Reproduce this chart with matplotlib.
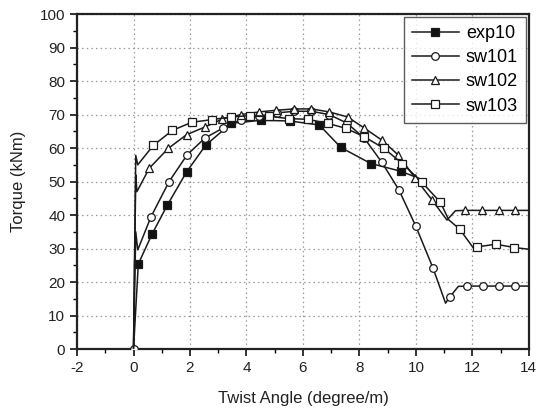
import matplotlib
matplotlib.use("Agg")
import matplotlib.pyplot as plt
from matplotlib.ticker import MultipleLocator

plt.rcParams['font.family'] = ['Liberation Sans', 'DejaVu Sans']

# ---- data ----
exp10_x = [0, 0.17, 0.65, 1.2, 1.88, 2.56, 3.46, 4.52, 5.53, 6.58, 7.34, 8.4, 9.46, 10.1]
exp10_y = [0, 25.4, 34.2, 43, 52.9, 60.9, 67.4, 68.3, 68.1, 66.9, 60.2, 55.4, 53.1, 51]
exp10_marks = list(range(1, 13))

sw101_x = [0, 0.08, 0.15, 0.62, 1.26, 1.9, 2.53, 3.17, 3.82, 4.45, 5.07, 5.7, 6.3, 6.93,
           7.55, 8.17, 8.79, 9.4, 10.0, 10.6, 11.05, 11.19, 11.5, 11.82, 12.38, 12.93, 13.52, 14]
sw101_y = [0, 35, 29.6, 39.5, 50, 58, 63, 66, 68.5, 69.5, 70.5, 71, 71, 70,
           67.5, 63, 55.8, 47.5, 36.6, 24.3, 13.7, 15.4, 18.7, 18.8, 18.8, 18.8, 18.8, 18.8]
sw101_marks = [0] + list(range(3, 20)) + [21, 23, 24, 25, 26]

sw102_x = [0, 0.08, 0.12, 0.56, 1.23, 1.88, 2.53, 3.15, 3.8, 4.44, 5.06, 5.7, 6.3, 6.93,
           7.58, 8.17, 8.79, 9.38, 9.96, 10.58, 11.1, 11.4, 11.75, 12.34, 12.93, 13.52, 14]
sw102_y = [0, 52, 47, 54, 59.9, 64, 66.3, 68.7, 70, 70.8, 71.3, 71.7, 71.7, 70.8,
           69.3, 66, 62.4, 57.9, 51.2, 44.4, 38.5, 41.3, 41.4, 41.4, 41.4, 41.4, 41.4]
sw102_marks = list(range(3, 20)) + [22, 23, 24, 25]

sw103_x = [0, 0.08, 0.15, 0.7, 1.38, 2.06, 2.77, 3.47, 4.14, 4.8, 5.5, 6.17, 6.87, 7.52,
           8.17, 8.87, 9.52, 10.2, 10.87, 11.16, 11.55, 12.05, 12.17, 12.83, 13.49, 14]
sw103_y = [0, 57.8, 55, 60.8, 65.3, 67.7, 68.5, 69.3, 69.7, 69.5, 68.8, 68.6, 67.4, 65.9,
           63.4, 59.9, 55.4, 49.9, 43.8, 38.6, 35.8, 30, 30.5, 31.3, 30.3, 29.8]
sw103_marks = list(range(3, 19)) + [20, 22, 23, 24]

x_ticks = [-2, 0, 2, 4, 6, 8, 10, 12, 14]
y_ticks = [0, 10, 20, 30, 40, 50, 60, 70, 80, 90, 100]

fig = plt.figure(figsize=(5.36, 4.16), dpi=100)
ax = fig.add_axes([0.1437, 0.161, 0.843, 0.805])

common = dict(color='#1a1a1a', lw=1.1, markersize=5.5, markeredgewidth=0.9,
              markeredgecolor='#1a1a1a')
ax.plot(exp10_x, exp10_y, marker='s', markerfacecolor='#111111',
        markevery=exp10_marks, label='exp10', zorder=3, **common)
ax.plot(sw101_x, sw101_y, marker='o', markerfacecolor='white',
        markevery=sw101_marks, label='sw101', zorder=3, **common)
ax.plot(sw102_x, sw102_y, marker='^', markerfacecolor='white',
        markevery=sw102_marks, label='sw102', zorder=3, **common)
ax.plot(sw103_x, sw103_y, marker='s', markerfacecolor='white',
        markevery=sw103_marks, label='sw103', zorder=3, **common)

ax.set_xlim(-2, 14)
ax.set_ylim(0, 100)
ax.set_xticks(x_ticks)
ax.set_yticks(y_ticks)
ax.set_xticklabels([str(v) for v in x_ticks])
ax.xaxis.set_minor_locator(MultipleLocator(1))
ax.yaxis.set_minor_locator(MultipleLocator(5))
ax.tick_params(which='major', direction='out', length=5, width=1.3, labelsize=11,
               top=False, right=False, colors='#222222')
ax.tick_params(which='minor', direction='out', length=3, width=1.0, top=False, right=False)
for s in ax.spines.values():
    s.set_linewidth(1.6)
    s.set_color('#222222')

ax.grid(True, which='major', linestyle=(0, (1.2, 2.5)), color='#999999', linewidth=0.9)
ax.set_axisbelow(True)

ax.set_xlabel('Twist Angle (degree/m)', fontsize=12, color='#222222', labelpad=12)
ax.set_ylabel('Torque (kNm)', fontsize=12, color='#222222', labelpad=10)

leg = ax.legend(loc='upper right', fontsize=13, handlelength=2.6, numpoints=1,
                frameon=True, fancybox=False, borderaxespad=0.15,
                handletextpad=0.4, labelspacing=0.4, borderpad=0.45)
leg.get_frame().set_edgecolor('#333333')
leg.get_frame().set_linewidth(1.0)

fig.savefig('out.png', dpi=100)
